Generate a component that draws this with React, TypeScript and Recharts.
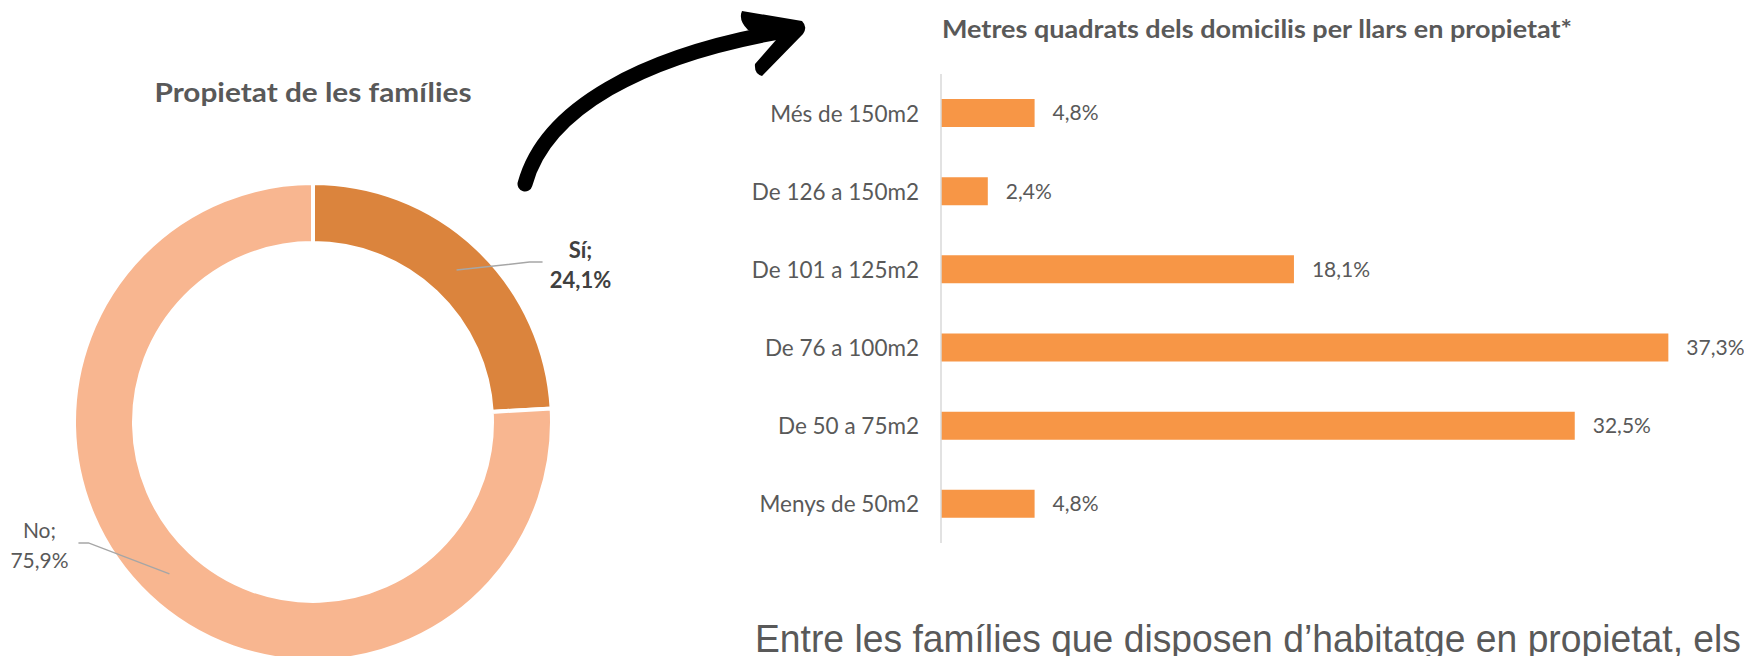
import React from "react";
import { PieChart, Pie, Cell, BarChart, Bar, XAxis, YAxis, LabelList } from "recharts";

// propietat de les famílies
const ownerNames = ["Sí", "No"];
const ownerValues = [24.1, 75.9];
const ownerColors = ["#DB843D", "#F8B690"];

// metres quadrats (llars en propietat)
const sizeCategories = [
  "Més de 150m2",
  "De 126 a 150m2",
  "De 101 a 125m2",
  "De 76 a 100m2",
  "De 50 a 75m2",
  "Menys de 50m2",
];
const sizeValues = [4.8, 2.4, 18.1, 37.3, 32.5, 4.8];

const GREY = "#595959";
const FONT = "Lato, 'Open Sans', sans-serif";
const RADIAN = Math.PI / 180;

const fmt = (v: number) => `${v.toFixed(1).replace(".", ",")}%`;

const ownerData = ownerNames.map((name, i) => ({ name, value: ownerValues[i] }));
const sizeData = sizeCategories.map((cat, i) => ({ cat, value: sizeValues[i] }));

// label-line offsets per slice (elbow, end, text centre)
const labelLayout: Record<string, { elbow: [number, number]; end: number; textX: number; bold: boolean }> = {
  Sí: { elbow: [73, -8], end: 13, textX: 38, bold: true },
  No: { elbow: [-81, -31], end: -10, textX: -39, bold: false },
};

function PieLabel(props: any) {
  const { cx, cy, midAngle, innerRadius, outerRadius, name, value } = props;
  const r = (innerRadius + outerRadius) / 2;
  const sx = cx + r * Math.cos(-midAngle * RADIAN);
  const sy = cy + r * Math.sin(-midAngle * RADIAN);
  const lay = labelLayout[name];
  const ex = sx + lay.elbow[0];
  const ey = sy + lay.elbow[1];
  const tx = ex + lay.end;
  const textCx = tx + lay.textX;
  return (
    <g>
      <polyline
        points={`${sx},${sy} ${ex},${ey} ${tx},${ey}`}
        fill="none"
        stroke="#A6A6A6"
        strokeWidth={1.5}
      />
      <text
        x={textCx}
        textAnchor="middle"
        fontFamily={FONT}
        fontSize={lay.bold ? 22 : 21}
        fontWeight={lay.bold ? 700 : 400}
        fill={lay.bold ? "#404040" : GREY}
      >
        <tspan x={textCx} y={ey - 13} dominantBaseline="central">{`${name};`}</tspan>
        <tspan x={textCx} y={ey + 17} dominantBaseline="central">{fmt(value)}</tspan>
      </text>
    </g>
  );
}

function CatTick(props: any) {
  const { x, y, payload } = props;
  return (
    <text x={x} y={y} textAnchor="end" dominantBaseline="central" fontFamily={FONT} fontSize={22.5} fill={GREY}>
      {payload.value}
    </text>
  );
}

export default function App() {
  return (
    <div style={{ position: "absolute", left: 0, top: 0, width: 1744, height: 656, background: "#fff", overflow: "hidden" }}>
      <div style={{ position: "absolute", left: 0, top: 0 }}>
        <PieChart width={626} height={656} margin={{ top: 0, right: 0, bottom: 0, left: 0 }}>
          <Pie
            data={ownerData}
            dataKey="value"
            nameKey="name"
            cx={313}
            cy={422}
            innerRadius={179}
            outerRadius={239}
            startAngle={90}
            endAngle={-270}
            stroke="#ffffff"
            strokeWidth={4}
            label={PieLabel}
            labelLine={false}
            isAnimationActive={false}
          >
            {ownerData.map((d, i) => (
              <Cell key={d.name} fill={ownerColors[i]} />
            ))}
          </Pie>
        </PieChart>
      </div>

      <div style={{ position: "absolute", left: 640, top: 0 }}>
        <BarChart
          width={1104}
          height={656}
          data={sizeData}
          layout="vertical"
          margin={{ top: 74, bottom: 113, left: 0, right: 23 }}
        >
          <XAxis type="number" domain={[0, 40]} hide />
          <YAxis
            type="category"
            dataKey="cat"
            width={301}
            axisLine={{ stroke: "#D9D9D9", strokeWidth: 1.5 }}
            tickLine={false}
            tickSize={0}
            tickMargin={22}
            tick={<CatTick />}
          />
          <Bar dataKey="value" fill="#F79646" barSize={28} isAnimationActive={false}>
            <LabelList
              dataKey="value"
              position="right"
              offset={18}
              formatter={(v: any) => fmt(Number(v))}
              style={{ fontFamily: FONT, fontSize: 21, fill: GREY }}
            />
          </Bar>
        </BarChart>
      </div>

      <svg width={1744} height={656} style={{ position: "absolute", left: 0, top: 0, pointerEvents: "none" }}>
        <text
          x={313}
          y={92}
          textAnchor="middle"
          dominantBaseline="central"
          fontFamily={FONT}
          fontWeight={700}
          fontSize={26}
          fill={GREY}
          textLength={317}
          lengthAdjust="spacingAndGlyphs"
        >
          Propietat de les famílies
        </text>
        <text
          x={1257}
          y={28}
          textAnchor="middle"
          dominantBaseline="central"
          fontFamily={FONT}
          fontWeight={700}
          fontSize={24}
          fill={GREY}
          textLength={630}
          lengthAdjust="spacingAndGlyphs"
        >
          Metres quadrats dels domicilis per llars en propietat*
        </text>
        <path d="M525,184 C545,110 640,55 790,30" fill="none" stroke="#000" strokeWidth={15} strokeLinecap="round" />
        <path
          d="M742,11 L802,21 Q808,27 803,34 L762,76 Q754,74 755,64 L776,40 L748,30 Q738,20 742,11 Z"
          fill="#000"
        />
        <text
          x={755}
          y={652}
          fontFamily="'Liberation Sans', Arial, sans-serif"
          fontSize={39}
          fill={GREY}
          textLength={986}
          lengthAdjust="spacingAndGlyphs"
        >
          Entre les famílies que disposen d’habitatge en propietat, els
        </text>
      </svg>
    </div>
  );
}
